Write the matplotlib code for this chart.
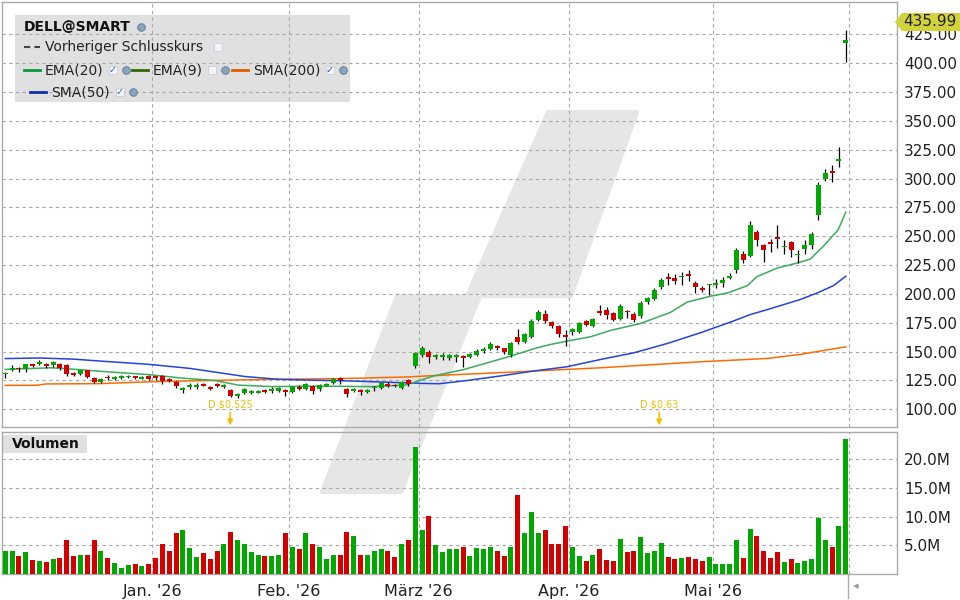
import numpy as np
import matplotlib
matplotlib.use('Agg')
import matplotlib.pyplot as plt
from matplotlib.patches import Polygon, Rectangle
from matplotlib.lines import Line2D
from matplotlib.ticker import FormatStrFormatter

# ---------------------------------------------------------------------------
# DATA (DELL daily candles, Dec '25 - May '26, volume in millions)

opens = [
    130.2, 134.3, 135.5, 134.6, 138.9, 139.5, 138.9, 138.3, 138.9, 138.0,
    131.1, 130.3, 133.7, 127.4, 123.9, 128.3, 126.5, 127.4, 128.0, 128.5,
    126.5, 128.5, 128.5, 128.8, 126.0, 123.6, 117.0, 119.6, 119.3, 121.6,
    119.4, 121.7, 119.6, 116.5, 111.6, 114.5, 114.5, 114.5, 116.8, 115.9,
    115.9, 116.8, 115.0, 119.6, 117.9, 120.2, 117.3, 120.5, 123.1, 126.8,
    117.3, 115.9, 116.5, 115.3, 118.2, 118.8, 122.2, 121.4, 118.8, 125.1,
    137.5, 146.7, 149.6, 145.3, 145.3, 144.1, 145.3, 145.8, 145.6, 146.7,
    150.4, 152.5, 154.8, 152.8, 146.7, 162.8, 158.5, 162.8, 177.8, 183.0,
    175.5, 172.6, 164.0, 166.9, 166.9, 176.4, 172.1, 185.6, 186.4, 183.6,
    178.7, 185.6, 182.7, 180.7, 192.8, 196.0, 205.7, 214.7, 213.8, 214.4,
    217.3, 209.5, 205.5, 207.5, 208.1, 209.5, 214.1, 220.4, 234.8, 233.1,
    253.3, 242.6, 244.6, 249.0, 240.3, 244.6, 233.4, 239.2, 242.6, 268.0,
    299.7, 306.6, 315.6, 417.5,
]
highs = [
    132.5, 138.0, 136.6, 139.5, 139.5, 143.0, 139.8, 142.0, 140.0, 139.0,
    132.0, 134.5, 134.5, 128.0, 127.5, 129.5, 129.0, 129.8, 130.0, 129.3,
    128.5, 129.5, 129.3, 130.0, 127.0, 124.5, 119.6, 123.0, 123.0, 122.5,
    120.5, 123.0, 122.0, 117.5, 114.0, 118.5, 117.0, 116.8, 117.5, 119.5,
    119.5, 118.0, 120.0, 121.0, 123.0, 121.5, 122.0, 123.0, 127.0, 127.8,
    118.5, 118.5, 117.5, 117.5, 120.0, 124.0, 123.5, 122.0, 124.5, 126.0,
    150.0, 154.5, 151.0, 148.0, 149.0, 148.0, 148.0, 147.0, 148.5, 152.0,
    154.0, 158.0, 155.5, 153.5, 158.5, 170.0, 166.5, 178.5, 186.0, 186.5,
    176.5, 173.5, 168.6, 170.5, 176.0, 177.5, 179.5, 190.0, 189.0, 184.5,
    191.0, 186.5, 184.0, 193.5, 197.5, 205.5, 214.0, 218.0, 217.0, 219.0,
    220.5, 211.0, 206.5, 209.0, 213.0, 214.5, 218.5, 240.0, 237.5, 263.0,
    255.0, 243.5, 248.0, 260.0, 247.0, 245.5, 238.0, 247.0, 253.5, 297.0,
    308.0, 311.8, 327.1, 428.5,
]
lows = [
    127.5, 133.2, 132.6, 132.6, 136.5, 138.3, 136.0, 137.0, 134.5, 128.8,
    128.5, 129.5, 127.0, 122.5, 123.0, 125.5, 125.5, 126.5, 127.3, 126.5,
    126.0, 125.8, 125.8, 122.2, 124.0, 118.7, 114.4, 117.3, 117.9, 119.8,
    117.0, 119.5, 118.5, 110.5, 109.9, 113.0, 113.5, 114.0, 114.3, 114.5,
    115.0, 111.6, 114.0, 116.8, 116.5, 113.0, 116.0, 119.8, 122.0, 121.7,
    111.0, 115.0, 112.4, 114.0, 116.0, 118.0, 119.0, 119.6, 117.5, 120.5,
    135.5, 145.5, 140.4, 144.0, 143.0, 142.5, 141.0, 136.9, 144.5, 146.0,
    149.0, 151.5, 151.5, 148.0, 145.5, 157.0, 157.5, 162.0, 176.5, 175.0,
    170.5, 162.5, 154.8, 164.0, 166.0, 172.0, 171.0, 181.5, 178.5, 176.5,
    177.5, 179.2, 176.0, 179.5, 191.5, 195.0, 204.0, 208.0, 209.0, 208.0,
    211.0, 201.0, 202.0, 199.4, 205.0, 206.0, 213.0, 218.5, 226.5, 232.0,
    241.2, 227.4, 236.0, 239.7, 235.0, 232.0, 227.0, 235.0, 239.0, 264.5,
    298.0, 297.4, 310.4, 401.0,
]
closes = [
    131.8, 136.0, 134.6, 138.9, 137.5, 141.2, 137.2, 140.9, 135.5, 130.3,
    129.7, 133.7, 128.0, 123.6, 126.5, 126.8, 128.0, 128.8, 129.1, 127.1,
    127.7, 126.5, 126.8, 124.5, 124.8, 120.2, 118.7, 120.8, 121.0, 120.5,
    117.9, 120.2, 120.8, 111.6, 113.0, 117.3, 115.9, 115.9, 115.0, 117.9,
    118.2, 115.3, 119.4, 117.9, 121.7, 115.9, 120.8, 121.7, 126.0, 125.4,
    113.6, 117.3, 115.0, 116.8, 119.1, 123.1, 120.2, 120.5, 123.7, 121.7,
    148.4, 153.3, 145.3, 146.7, 146.7, 146.7, 146.7, 144.1, 147.6, 150.4,
    152.5, 156.2, 152.8, 149.6, 157.1, 158.2, 164.9, 176.9, 184.2, 176.4,
    172.1, 165.4, 162.8, 169.2, 175.0, 173.5, 178.4, 183.8, 181.5, 177.8,
    189.9, 184.1, 177.2, 192.2, 196.5, 203.7, 212.4, 213.2, 211.5, 215.8,
    215.8, 205.7, 203.7, 208.6, 209.5, 211.8, 215.8, 238.3, 229.7, 259.9,
    246.9, 238.3, 243.2, 247.5, 241.8, 237.7, 234.8, 242.6, 252.1, 294.5,
    305.2, 305.2, 317.0, 419.8,
]
volumes = [
    4.0, 4.0, 3.1, 3.8, 2.4, 2.2, 2.1, 2.6, 2.8, 6.0,
    3.1, 3.3, 3.4, 5.9, 4.0, 2.8, 1.9, 1.0, 1.6, 1.7,
    1.4, 1.7, 2.8, 5.3, 4.0, 7.2, 7.6, 4.5, 2.9, 3.6,
    2.6, 4.0, 5.3, 7.4, 5.9, 5.3, 3.8, 3.4, 3.1, 3.1,
    3.4, 7.2, 4.8, 4.3, 7.1, 5.2, 4.8, 2.6, 3.4, 3.3,
    7.4, 6.6, 3.4, 3.4, 4.1, 4.3, 4.1, 2.9, 5.3, 5.9,
    22.2, 7.6, 10.2, 5.0, 3.8, 4.3, 4.3, 4.7, 3.1, 4.5,
    4.3, 4.8, 4.0, 3.1, 4.7, 13.8, 7.1, 10.9, 7.2, 7.6,
    5.2, 5.2, 8.3, 4.7, 3.1, 2.2, 3.3, 4.3, 2.4, 2.2,
    6.2, 3.8, 4.0, 6.4, 3.6, 4.1, 5.5, 2.9, 2.6, 2.8,
    2.9, 2.6, 2.2, 2.9, 1.7, 1.7, 1.7, 5.9, 2.8, 7.9,
    6.6, 4.1, 2.8, 3.8, 2.1, 2.6, 1.9, 2.2, 2.6, 9.8,
    5.9, 4.8, 8.3, 23.6,
]

# indicator lines as (bar index, value)
ema20_x = [0, 4.1, 6.6, 9.1, 13.9, 18.7, 21.2, 26, 30.7, 34.1, 39.1, 43.9, 48.7,
           53.7, 58.5, 60.4, 62.6, 67.1, 73.9, 77.8, 79.8, 82.2, 85.6, 88.5,
           92.9, 97.3, 99.8, 103.2, 105.7, 108.6, 110, 113, 115.9, 117.8,
           119.7, 121.9, 123]
ema20_y = [134.6, 135.5, 136, 135.2, 133, 131, 130, 127, 125, 121, 119.7, 120, 120,
           119.7, 121, 124.5, 128.8, 134.5, 146, 153.3, 156.2, 159.1, 162.8, 168.3,
           174.3, 183.9, 193, 198, 200.9, 207.2, 215, 222.5, 226.8, 230.2,
           241.2, 255.6, 270.9]
sma50_x = [0, 5, 10, 14, 21, 27, 31, 35, 40, 44, 51, 58, 61, 63.5, 67.6, 72.4,
           77.3, 82.2, 87.1, 92, 96.9, 101.7, 106.5, 109, 111.5, 116.3, 118.8,
           121.2, 123]
sma50_y = [144, 144.5, 143.5, 141.8, 139, 135.5, 132, 128.5, 126, 125.4, 124.5,
           123.1, 122.5, 122.2, 125, 128.9, 133.2, 136.9, 143.2, 149, 157.1, 166.3,
           176.4, 182.1, 186.4, 195.1, 200.8, 207.2, 215.3]
sma200_x = [0, 4.5, 6, 13.9, 21.2, 30.7, 39.1, 48.7, 58.5, 61.5, 72.4, 82.2,
            87.1, 101.7, 111.5, 116.3, 123]
sma200_y = [120.8, 120.8, 122, 122.3, 123.9, 125.1, 126, 126.6, 128, 128.9, 131.8,
            134.6, 136, 141.2, 144.1, 147.6, 154.2]

month_pos = [21.5, 41.5, 60.5, 82.5, 103.5]
month_labels = ["Jan. '26", "Feb. '26", "März '26", "Apr. '26", "Mai '26"]

div_pos = [32.9, 95.7]
div_labels = ["D $0.525", "D $0.63"]

last_price = 435.99

# ---------------------------------------------------------------------------
# STYLE

W, H = 960, 600
GREEN, RED = '#00a800', '#d40000'
GRID = '#a8a8a8'
BOX = '#e0e0e0'
DIV_COLOR = '#f5c000'


def fx(px):
    return px / W


def fy(py):
    return 1 - py / H


fig = plt.figure(figsize=(W / 100, H / 100), dpi=100)
fig.patch.set_facecolor('white')

# watermark logo behind both panels (stepped slanted band)
wm_pts = [(322, 492), (401, 492), (480, 296), (571, 296), (637, 112),
          (548, 112), (467, 296), (397, 296)]
fig.add_artist(Polygon([(fx(x), fy(y)) for x, y in wm_pts], closed=True,
                       transform=fig.transFigure, facecolor='#e6e6e6',
                       edgecolor='#e6e6e6', lw=3, joinstyle='round', zorder=-5))

# legend background (below grid)
fig.add_artist(Rectangle((fx(15), fy(102)), fx(350) - fx(15), fy(15) - fy(102),
                         transform=fig.transFigure, facecolor=BOX,
                         edgecolor='none', zorder=-4))
fig.add_artist(Rectangle((fx(3), fy(453)), fx(87) - fx(3), fy(435) - fy(453),
                         transform=fig.transFigure, facecolor=BOX,
                         edgecolor='none', zorder=-4))

left, right = 2, 897
ax = fig.add_axes([fx(left), fy(427), fx(right) - fx(left), fy(2) - fy(427)],
                  facecolor='none')
axv = fig.add_axes([fx(left), fy(574), fx(right) - fx(left), fy(432) - fy(574)],
                   facecolor='none')

n = len(closes)
idx = np.arange(n)
o, hi, lo, c = (np.array(a) for a in (opens, highs, lows, closes))
up = c >= o
colors = np.where(up, GREEN, RED)

# candles
ax.vlines(idx, lo, hi, color='black', lw=0.9, zorder=3)
ax.bar(idx, np.maximum(np.abs(c - o), 0.9), bottom=np.minimum(o, c), width=0.74,
       color=colors, linewidth=0, zorder=4)

# moving averages
ax.plot(sma200_x, sma200_y, color='#ff6a00', lw=1.1, zorder=2)
ax.plot(sma50_x, sma50_y, color='#2244d8', lw=1.1, zorder=2)
ax.plot(ema20_x, ema20_y, color='#3aac5c', lw=1.1, zorder=2)

# volume
axv.bar(idx, volumes, width=0.74, color=colors, linewidth=0, zorder=3)

xlim = (-0.48, 130.5)
for a in (ax, axv):
    a.set_xlim(*xlim)
    for s in a.spines.values():
        s.set_color('#aaaaaa')
        s.set_linewidth(1)
    a.yaxis.tick_right()
    a.tick_params(axis='y', length=0, pad=5, labelsize=11, colors='#222222')
    a.grid(axis='y', ls=(0, (3, 3)), color=GRID, lw=0.8, zorder=1)
    for m in month_pos:
        a.axvline(m, ls=(0, (3, 3)), color=GRID, lw=0.8, zorder=1)
    a.axvline(123.45, ls=(0, (3, 3)), color=GRID, lw=0.8, zorder=1)

ax.set_ylim(84.7, 453.0)
ax.set_yticks(np.arange(100, 426, 25))
ax.yaxis.set_major_formatter(FormatStrFormatter('%.2f'))
ax.set_xticks([])

axv.set_ylim(0, 24.8)
axv.set_yticks([5, 10, 15, 20])
axv.set_yticklabels(['5.0M', '10.0M', '15.0M', '20.0M'])
axv.set_xticks(month_pos)
axv.set_xticklabels(month_labels)
axv.tick_params(axis='x', length=0, pad=7, labelsize=11.5, colors='#222222')

# dividend markers
for pos, lab in zip(div_pos, div_labels):
    ax.text(pos, 104.6, lab, color=DIV_COLOR, fontsize=7, ha='center', va='center')
    ax.annotate('', xy=(pos, 86.0), xytext=(pos, 97.5),
                arrowprops=dict(arrowstyle='-|>', color=DIV_COLOR, lw=1.2,
                                mutation_scale=8, shrinkA=0, shrinkB=0))

# last price tag
tag = [(895, 22), (902, 13), (960, 13), (960, 31), (902, 31)]
fig.add_artist(Polygon([(fx(x), fy(y)) for x, y in tag], closed=True,
                       transform=fig.transFigure, facecolor='#d2d23a',
                       edgecolor='none', zorder=5))
fig.text(fx(903), fy(22), f'{last_price:.2f}', fontsize=11, color='#222222',
         va='center', ha='left', zorder=6)

# today marker below the volume panel
fig.add_artist(Line2D([fx(848), fx(848)], [fy(575), fy(598)], color='#aaaaaa',
                      lw=1, transform=fig.transFigure))
fig.text(fx(856), fy(586), '\u25c2', fontsize=8, color='#999999',
         ha='center', va='center')

# legend
fig.text(fx(24), fy(27), 'DELL@SMART', fontsize=10, weight='bold', color='#111111',
         va='center', ha='left')
fig.text(fx(45), fy(47), 'Vorheriger Schlusskurs', fontsize=10, color='#222222',
         va='center', ha='left')
fig.add_artist(Line2D([fx(24), fx(40)], [fy(47), fy(47)], color='#444444', lw=1.5,
                      ls=(0, (3, 2)), transform=fig.transFigure))

items = [(24, 70, 'EMA(20)', '#0a9a3a'),
         (132, 70, 'EMA(9)', '#336600'),
         (232, 70, 'SMA(200)', '#e05a00'),
         (30, 92, 'SMA(50)', '#1030b0')]
for x0, y0, lab, col in items:
    fig.add_artist(Line2D([fx(x0), fx(x0 + 16)], [fy(y0), fy(y0)], color=col, lw=2,
                          transform=fig.transFigure))
    fig.text(fx(x0 + 21), fy(y0), lab, fontsize=10, color='#222222',
             va='center', ha='left')


def add_box(x, y, checked):
    fig.add_artist(Rectangle((fx(x - 4), fy(y + 4)), fx(8), fy(0) - fy(8),
                             transform=fig.transFigure, facecolor='#f4f4f8',
                             edgecolor='#c8c8d0', lw=0.5, zorder=6))
    if checked:
        fig.text(fx(x), fy(y), '\u2713', fontsize=7, color='#1a5fd0', weight='bold',
                 ha='center', va='center', zorder=7)


def add_icon(x, y):
    fig.add_artist(Line2D([fx(x)], [fy(y)], marker='o', markersize=5.5,
                          markerfacecolor='#8aa4bc', markeredgecolor='#5a7894',
                          markeredgewidth=0.6, transform=fig.transFigure))


add_icon(141, 27)
add_box(218, 47, False)
add_box(113, 70, True)
add_icon(126, 70)
add_box(212, 70, False)
add_icon(225, 70)
add_box(330, 70, True)
add_icon(343, 70)
add_box(120, 92, True)
add_icon(133, 92)

fig.text(fx(12), fy(444), 'Volumen', fontsize=10, weight='bold', color='#111111',
         va='center', ha='left')

fig.savefig('out.png', dpi=100)
